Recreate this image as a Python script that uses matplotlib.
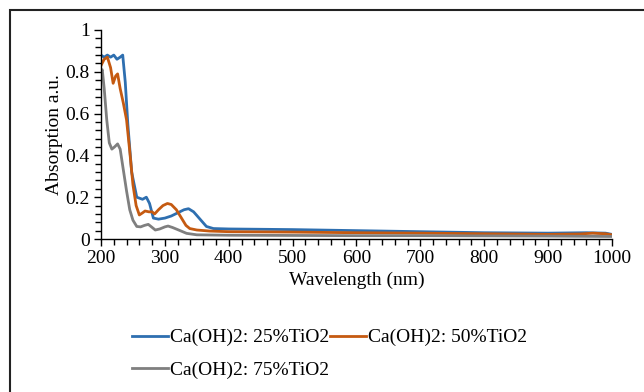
import matplotlib
matplotlib.use("Agg")
import matplotlib.pyplot as plt
from matplotlib.patches import Rectangle
from matplotlib.ticker import MultipleLocator

plt.rcParams['font.family'] = ['Liberation Serif', 'DejaVu Serif']

# Series: Ca(OH)2 : 25% TiO2
wl_25 = [200, 205, 210, 215, 220, 225, 230, 234, 238, 242, 248, 256, 265, 271, 276, 282, 290,
         300, 310, 320, 330, 337, 345, 355, 365, 376, 400, 500, 600, 700, 800, 900, 960, 990, 1000]
ab_25 = [0.88, 0.87, 0.88, 0.87, 0.88, 0.86, 0.87, 0.88, 0.75, 0.55, 0.32, 0.20, 0.19, 0.20, 0.17, 0.10, 0.095,
         0.10, 0.11, 0.125, 0.14, 0.145, 0.13, 0.095, 0.06, 0.05, 0.048, 0.045, 0.04, 0.035, 0.03, 0.028, 0.03, 0.028, 0.022]

# Series: Ca(OH)2 : 50% TiO2
wl_50 = [200, 205, 210, 215, 219, 223, 226, 230, 235, 240, 245, 250, 255, 260, 265, 269, 275, 280, 284,
         290, 297, 304, 310, 318, 326, 333, 339, 350, 370, 400, 500, 600, 700, 800, 900, 950, 970, 990, 1000]
ab_50 = [0.83, 0.86, 0.87, 0.82, 0.745, 0.78, 0.79, 0.72, 0.65, 0.57, 0.42, 0.26, 0.16, 0.115, 0.125, 0.134, 0.13, 0.13, 0.12,
         0.14, 0.16, 0.17, 0.165, 0.14, 0.10, 0.065, 0.05, 0.043, 0.038, 0.035, 0.033, 0.03, 0.028, 0.025, 0.022, 0.024, 0.028, 0.025, 0.02]

# Series: Ca(OH)2 : 75% TiO2
wl_75 = [200, 202, 205, 209, 213, 217, 221, 226, 230, 235, 240, 245, 250, 256, 262, 268, 274, 279, 285,
         292, 300, 305, 312, 320, 334, 350, 400, 500, 600, 700, 800, 900, 1000]
ab_75 = [0.80, 0.81, 0.72, 0.57, 0.46, 0.43, 0.44, 0.455, 0.43, 0.33, 0.23, 0.14, 0.09, 0.06, 0.058, 0.065, 0.07, 0.058, 0.043,
         0.048, 0.058, 0.062, 0.055, 0.045, 0.027, 0.02, 0.018, 0.017, 0.016, 0.016, 0.015, 0.014, 0.012]

labels = ['Ca(OH)2: 25%TiO2', 'Ca(OH)2: 50%TiO2', 'Ca(OH)2: 75%TiO2']
colors = ['#2E6FB0', '#C55A11', '#7F7F7F']

fig = plt.figure(figsize=(6.44, 3.92), dpi=100)
W, H = 644, 392
ax = fig.add_axes([101 / W, 1 - 239 / H, (612 - 101) / W, (239 - 30) / H])

l1, = ax.plot(wl_25, ab_25, color=colors[0], lw=2, label=labels[0])
l2, = ax.plot(wl_50, ab_50, color=colors[1], lw=2, label=labels[1])
l3, = ax.plot(wl_75, ab_75, color=colors[2], lw=2, label=labels[2])

ax.set_xlim(200, 1000)
ax.set_ylim(0, 1)
ax.xaxis.set_major_locator(MultipleLocator(100))
ax.xaxis.set_minor_locator(MultipleLocator(20))
ax.yaxis.set_minor_locator(MultipleLocator(0.04))
ax.set_yticks([0, 0.2, 0.4, 0.6, 0.8, 1.0])
ax.set_yticklabels(['0', '0.2', '0.4', '0.6', '0.8', '1'])
ax.tick_params(which='both', direction='out', color='black', width=1)
ax.tick_params(which='major', length=5, labelsize=14, pad=3)
ax.tick_params(which='minor', length=4)
for s in ['top', 'right']:
    ax.spines[s].set_visible(False)
for s in ['left', 'bottom']:
    ax.spines[s].set_color('black')
    ax.spines[s].set_linewidth(1)

ax.set_xlabel('Wavelength (nm)', fontsize=14, labelpad=3)
ax.set_ylabel('Absorption a.u.', fontsize=14, labelpad=2)

# row-major order: [25%, 50%] on first row, [75%] on second
leg = fig.legend(handles=[l1, l3, l2], labels=[labels[0], labels[2], labels[1]], ncol=2, frameon=False,
                 loc='upper left', bbox_to_anchor=(124 / W, 1 - 321 / H),
                 fontsize=14, handlelength=1.85, handletextpad=0.1,
                 columnspacing=0.05, labelspacing=0.75, borderaxespad=0)

# outer frame
fig.patches.append(Rectangle((10 / W, -0.1), 1.2, 1 - 10 / H + 0.1,
                             transform=fig.transFigure, fill=False,
                             edgecolor='#222222', lw=1.5))

fig.savefig('out.png', dpi=100)
